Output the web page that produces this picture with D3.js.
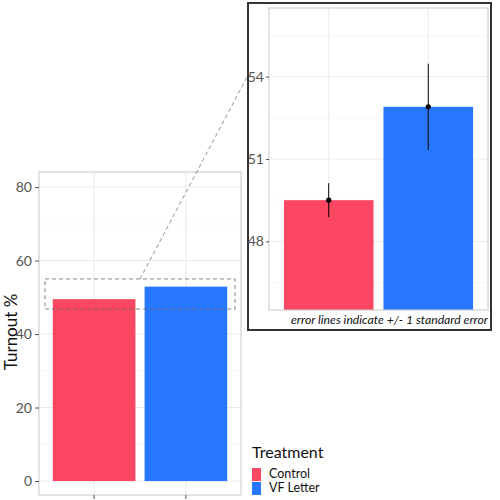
<!DOCTYPE html>
<html>
<head>
<meta charset="utf-8">
<script src="https://cdn.jsdelivr.net/npm/d3@7"></script>
<style>
  body { margin: 0; background: #fff; }
  text { font-family: Lato, "Open Sans", sans-serif; }
</style>
</head>
<body>
<div id="chart"></div>
<script>
// data
const groups = ['Control', 'VF Letter'];
const turnout = [49.5, 52.9];
const stdErr = [0.62, 1.57];
const mainTicks = [0, 20, 40, 60, 80];
const insetTicks = [48, 51, 54];
const zoomRange = [46.8, 55];

const colors = ['#fb4761', '#2878ff'];
const data = groups.map((g, i) => ({ group: g, value: turnout[i], se: stdErr[i] }));

const svg = d3.select('#chart')
    .append('svg')
    .attr('width', 500)
    .attr('height', 500);

// ---- main panel ----
const x = d3.scaleBand()
    .domain(groups)
    .range([39, 241])
    .paddingInner(0.1)
    .paddingOuter(0.15);

const y = d3.scaleLinear()
    .domain([-3.8, 84.1])
    .range([495, 172]);

const main = svg.append('g');

main.append('rect')
    .attr('x', 39).attr('y', 172)
    .attr('width', 202).attr('height', 323)
    .attr('fill', '#fff');

// minor + major grid
main.selectAll('.minor')
    .data([10, 30, 50, 70])
    .join('line')
    .attr('x1', 39).attr('x2', 241)
    .attr('y1', d => y(d)).attr('y2', d => y(d))
    .attr('stroke', '#f3f3f3').attr('stroke-width', 0.6);

main.selectAll('.major')
    .data(mainTicks)
    .join('line')
    .attr('x1', 39).attr('x2', 241)
    .attr('y1', d => y(d)).attr('y2', d => y(d))
    .attr('stroke', '#ebebeb').attr('stroke-width', 1);

main.selectAll('.vgrid')
    .data(groups)
    .join('line')
    .attr('x1', d => x(d) + x.bandwidth() / 2)
    .attr('x2', d => x(d) + x.bandwidth() / 2)
    .attr('y1', 172).attr('y2', 495)
    .attr('stroke', '#ebebeb');

main.selectAll('.bar')
    .data(data)
    .join('rect')
    .attr('x', d => x(d.group))
    .attr('width', x.bandwidth())
    .attr('y', d => y(d.value))
    .attr('height', d => y(0) - y(d.value))
    .attr('fill', (d, i) => colors[i]);

main.append('rect')
    .attr('x', 39).attr('y', 172)
    .attr('width', 202).attr('height', 323)
    .attr('fill', 'none')
    .attr('stroke', '#c8c8c8');

// axes
const yAxis = main.append('g')
    .attr('transform', 'translate(39,0)')
    .call(d3.axisLeft(y).tickValues(mainTicks).tickSize(4).tickPadding(3));
yAxis.select('.domain').remove();
yAxis.selectAll('line').attr('stroke', '#555');
yAxis.selectAll('text')
    .attr('fill', '#555')
    .style('font-size', '14px')
    .style('font-family', 'Lato, sans-serif');

const xAxis = main.append('g')
    .attr('transform', 'translate(0,495)')
    .call(d3.axisBottom(x).tickSize(4).tickFormat(''));
xAxis.select('.domain').remove();
xAxis.selectAll('line').attr('stroke', '#555');

main.append('text')
    .attr('transform', 'translate(17,332) rotate(-90)')
    .attr('text-anchor', 'middle')
    .style('font-size', '17px')
    .attr('fill', '#111')
    .text('Turnout %');

// zoom box
main.append('rect')
    .attr('x', 45)
    .attr('y', y(zoomRange[1]))
    .attr('width', 190)
    .attr('height', y(zoomRange[0]) - y(zoomRange[1]))
    .attr('fill', 'none')
    .attr('stroke', '#666')
    .attr('stroke-dasharray', '4,3')
    .attr('stroke-width', 0.8);

// ---- inset ----
const xi = d3.scaleBand()
    .domain(groups)
    .range([269, 488])
    .paddingInner(0.1)
    .paddingOuter(0.15);

const yi = d3.scaleLinear()
    .domain([45.5, 56.5])
    .range([310, 8]);

// connector from zoom box to inset
svg.append('line')
    .attr('x1', 140).attr('y1', y(zoomRange[1]))
    .attr('x2', 248).attr('y2', yi(54.05))
    .attr('stroke', '#777')
    .attr('stroke-dasharray', '4,3')
    .attr('stroke-width', 0.8);

const inset = svg.append('g');

inset.append('rect')
    .attr('x', 248).attr('y', 3)
    .attr('width', 243).attr('height', 327)
    .attr('fill', '#fff')
    .attr('stroke', '#333')
    .attr('stroke-width', 2);

inset.selectAll('.minor')
    .data([46.5, 49.5, 52.5, 55.5])
    .join('line')
    .attr('x1', 269).attr('x2', 488)
    .attr('y1', d => yi(d)).attr('y2', d => yi(d))
    .attr('stroke', '#f3f3f3').attr('stroke-width', 0.6);

inset.selectAll('.major')
    .data(insetTicks)
    .join('line')
    .attr('x1', 269).attr('x2', 488)
    .attr('y1', d => yi(d)).attr('y2', d => yi(d))
    .attr('stroke', '#ebebeb');

inset.selectAll('.vgrid')
    .data(groups)
    .join('line')
    .attr('x1', d => xi(d) + xi.bandwidth() / 2)
    .attr('x2', d => xi(d) + xi.bandwidth() / 2)
    .attr('y1', 8).attr('y2', 310)
    .attr('stroke', '#ebebeb');

inset.selectAll('.bar')
    .data(data)
    .join('rect')
    .attr('x', d => xi(d.group))
    .attr('width', xi.bandwidth())
    .attr('y', d => yi(d.value))
    .attr('height', d => 310 - yi(d.value))
    .attr('fill', (d, i) => colors[i]);

inset.selectAll('.err')
    .data(data)
    .join('line')
    .attr('x1', d => xi(d.group) + xi.bandwidth() / 2)
    .attr('x2', d => xi(d.group) + xi.bandwidth() / 2)
    .attr('y1', d => yi(d.value - d.se))
    .attr('y2', d => yi(d.value + d.se))
    .attr('stroke', '#000')
    .attr('stroke-width', 1);

inset.selectAll('.pt')
    .data(data)
    .join('circle')
    .attr('cx', d => xi(d.group) + xi.bandwidth() / 2)
    .attr('cy', d => yi(d.value))
    .attr('r', 2.6)
    .attr('fill', '#000');

inset.append('rect')
    .attr('x', 269).attr('y', 8)
    .attr('width', 219).attr('height', 302)
    .attr('fill', 'none')
    .attr('stroke', '#c8c8c8');

const yiAxis = inset.append('g')
    .attr('transform', 'translate(269,0)')
    .call(d3.axisLeft(yi).tickValues(insetTicks).tickSize(3).tickPadding(2));
yiAxis.select('.domain').remove();
yiAxis.selectAll('line').attr('stroke', '#555');
yiAxis.selectAll('text')
    .attr('fill', '#555')
    .style('font-size', '14px')
    .style('font-family', 'Lato, sans-serif');

inset.append('text')
    .attr('x', 488).attr('y', 324)
    .attr('text-anchor', 'end')
    .style('font-size', '12.2px')
    .style('font-style', 'italic')
    .attr('fill', '#111')
    .text('error lines indicate +/- 1 standard error');

// ---- legend ----
const legend = svg.append('g').attr('transform', 'translate(252,0)');

legend.append('text')
    .attr('x', 0).attr('y', 458)
    .style('font-size', '16px')
    .attr('fill', '#111')
    .text('Treatment');

legend.selectAll('.key')
    .data(groups)
    .join('rect')
    .attr('x', 0)
    .attr('y', (d, i) => 468 + i * 14)
    .attr('width', 9)
    .attr('height', 13)
    .attr('fill', (d, i) => colors[i]);

legend.selectAll('.lab')
    .data(groups)
    .join('text')
    .attr('x', 17)
    .attr('y', (d, i) => 478 + i * 14)
    .style('font-size', '12.5px')
    .attr('fill', '#111')
    .text(d => d);
</script>
</body>
</html>
